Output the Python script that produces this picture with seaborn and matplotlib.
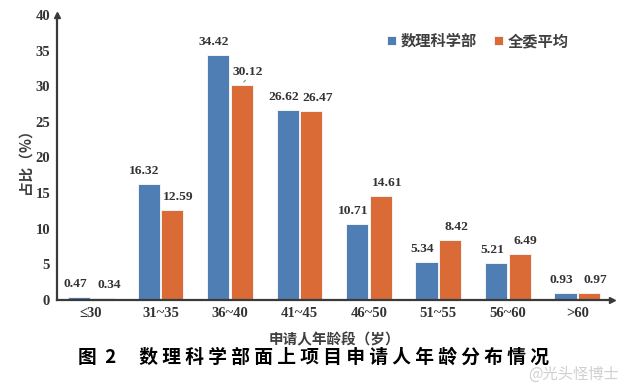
import matplotlib
matplotlib.use("Agg")
import matplotlib.pyplot as plt
import seaborn as sns
import pandas as pd

categories = ["≤30", "31~35", "36~40", "41~45", "46~50", "51~55", "56~60", ">60"]
series_names = ["数理科学部", "全委平均"]
math_dept = [0.47, 16.32, 34.42, 26.62, 10.71, 5.34, 5.21, 0.93]
all_avg = [0.34, 12.59, 30.12, 26.47, 14.61, 8.42, 6.49, 0.97]
yticks = [0, 5, 10, 15, 20, 25, 30, 35, 40]

df = pd.DataFrame({
    "age": categories * 2,
    "value": math_dept + all_avg,
    "group": [series_names[0]] * len(categories) + [series_names[1]] * len(categories),
})

sns.set_theme(style="white")
CJK = ["Noto Sans CJK SC", "DejaVu Sans"]
SERIF = ["Liberation Serif", "DejaVu Serif"]
plt.rcParams["font.family"] = CJK

blue = "#4F7EB5"
orange = "#DA6B37"
axis_color = "#3a3a3a"

fig = plt.figure(figsize=(6.25, 3.87), dpi=100)
ax = fig.add_axes([57 / 625, 1 - 300 / 387, (612 - 57) / 625, (300 - 15) / 387])

sns.barplot(data=df, x="age", y="value", hue="group", order=categories,
            hue_order=series_names, palette=[blue, orange], saturation=1,
            width=0.68, gap=0.06, edgecolor="#f3f3f3", linewidth=0.7, ax=ax, legend=True)

ax.set_xlim(-0.49, 7.5)
ax.set_ylim(0, 40)
ax.set_yticks(yticks)
ax.set_yticklabels([str(t) for t in yticks])
for lab in ax.get_yticklabels() + ax.get_xticklabels():
    lab.set_fontfamily(SERIF)
    lab.set_fontweight("bold")
    lab.set_fontsize(10.5)
    lab.set_color("#333333")
ax.tick_params(axis="x", length=0, pad=5)
ax.tick_params(axis="y", length=0, pad=5)

for s in ["top", "right"]:
    ax.spines[s].set_visible(False)
for s in ["left", "bottom"]:
    ax.spines[s].set_color(axis_color)
    ax.spines[s].set_linewidth(1.6)
ax.plot(1, 0, ">", color=axis_color, markersize=5, transform=ax.transAxes, clip_on=False)
ax.plot(0, 1, "^", color=axis_color, markersize=5, transform=ax.transAxes, clip_on=False)

# value labels: blue slightly left, orange slightly right (as in the reference)
shifts = [-3, 4.5]
for ci, cont in enumerate(ax.containers):
    anns = ax.bar_label(cont, fmt="%.2f", padding=5, fontsize=9.7, fontweight="bold",
                        fontfamily=SERIF, color="#333333")
    for a in anns:
        a.xyann = (shifts[ci], 5)

# small leader line for the 30.12 label
orange_bars = ax.containers[1]
idx = all_avg.index(30.12)
p = orange_bars[idx]
cx = p.get_x() + p.get_width() / 2
ax.annotate("", xy=(cx, all_avg[idx] + 0.2), xytext=(cx + 0.08, all_avg[idx] + 1.0),
            arrowprops=dict(arrowstyle="-", color="#8a8a8a", lw=0.8))

ax.set_xlabel("申请人年龄段（岁）", fontsize=10.5, fontweight="bold", color="#404040", labelpad=8)
ax.set_ylabel("占比（%）", fontsize=10.5, fontweight="bold", color="#404040", labelpad=2)

leg = ax.legend(loc="upper left", bbox_to_anchor=(0.57, 0.985), ncol=2, frameon=False,
                handlelength=0.6, handleheight=0.6, handletextpad=0.3, columnspacing=1.1,
                prop={"family": CJK, "weight": "bold", "size": 11})
for t in leg.get_texts():
    t.set_color("#404040")

title = "图  2　 数 理 科 学 部 面 上 项 目 申 请 人 年 龄 分 布 情 况"
fig.text(0.502, 1 - 357 / 387, title, ha="center", va="center", fontsize=13.5,
         fontweight="bold", color="black")
fig.text(0.99, 1 - 374 / 387, "@光头怪博士", ha="right", va="center", fontsize=11,
         color="#d0d0d0")

fig.savefig("out.png", dpi=100)
